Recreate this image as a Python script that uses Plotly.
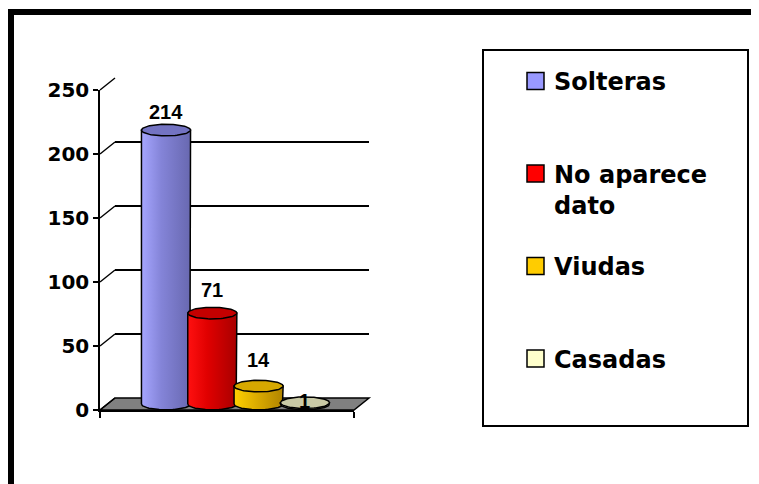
import numpy as np
import plotly.graph_objects as go

# data
categories = ["Solteras", "No aparece<br>dato", "Viudas", "Casadas"]
counts = [214, 71, 14, 1]
y_ticks = [0, 50, 100, 150, 200, 250]

# styles
swatch = ["#9999FF", "#FF0000", "#FFCC00", "#FFFFCC"]
side_light = ["#A6A6FF", "#FF1010", "#FFD000", "#DCDCBC"]
side_mid = ["#8484D8", "#E00000", "#E0B000", "#CACAA8"]
side_dark = ["#6868B0", "#A80000", "#B08400", "#AEAE8E"]
cap_color = ["#7373C2", "#C40000", "#D6A800", "#CACAA6"]
label_lift = [18, 23, 26, 2]

# the page body has an 8px margin, so the figure starts at (8, 8)
OFF = 8
W, H = 759 - OFF, 484 - OFF
K = 1.28          # pixels per count
SLOT = 46.3       # pixels between cylinders
HW = 0.53         # half width of a cylinder, in slots
B = 5.8 / K       # half height of the elliptic caps, in counts


def px(x):
    return (x - OFF) / W


def py(y):
    return 1 - (y - OFF) / H


fig = go.Figure()

# empty traces so the front and back subplots get drawn
fig.add_trace(go.Scatter(x=[], y=[], xaxis="x", yaxis="y", hoverinfo="skip", showlegend=False))
fig.add_trace(go.Scatter(x=[], y=[], xaxis="x2", yaxis="y2", hoverinfo="skip", showlegend=False))

t_half = np.linspace(0, np.pi, 40)
t_full = np.linspace(0, 2 * np.pi, 80)
for i, (name, v) in enumerate(zip(categories, counts)):
    # body of the cylinder
    bx = [i - HW, i - HW, i + HW] + list(i + HW * np.cos(t_half))
    by = [0, v, v] + list(-B * np.sin(t_half))
    fig.add_trace(go.Scatter(
        x=bx, y=by, xaxis="x3", yaxis="y3",
        mode="lines", fill="toself",
        fillgradient=dict(type="horizontal",
                          colorscale=[[0, side_light[i]], [0.4, side_mid[i]], [1, side_dark[i]]]),
        line=dict(color="black", width=1.5),
        hoverinfo="skip", showlegend=False, name=name,
    ))
    # top cap
    fig.add_trace(go.Scatter(
        x=list(i + HW * np.cos(t_full)), y=list(v + B * np.sin(t_full)),
        xaxis="x3", yaxis="y3",
        mode="lines", fill="toself", fillcolor=cap_color[i],
        line=dict(color="black", width=1.5),
        hoverinfo="skip", showlegend=False,
    ))
    fig.add_annotation(
        x=i, y=v, xref="x3", yref="y3", text=f"<b>{v}</b>",
        showarrow=False, yanchor="middle", yshift=label_lift[i],
        font=dict(family="Liberation Sans", size=20, color="black"),
    )

shapes = []
# thick frame (top and left)
shapes.append(dict(type="rect", xref="paper", yref="paper", x0=px(8), x1=px(770),
                   y0=py(15), y1=py(9), fillcolor="black", line=dict(width=0)))
shapes.append(dict(type="rect", xref="paper", yref="paper", x0=px(8), x1=px(14),
                   y0=py(495), y1=py(9), fillcolor="black", line=dict(width=0)))
# floor
shapes.append(dict(
    type="path", xref="paper", yref="paper", layer="below",
    path=f"M{px(100)},{py(410)} L{px(354)},{py(410)} L{px(369)},{py(398)} L{px(115)},{py(398)} Z",
    fillcolor="#808080", line=dict(color="black", width=1.5)))
# wall connectors from front ticks to back gridlines
for t in y_ticks:
    shapes.append(dict(type="line", xref="paper", yref="paper", layer="below",
                       x0=px(100), y0=py(410 - K * t), x1=px(115), y1=py(398 - K * t),
                       line=dict(color="black", width=1.5)))

# legend
shapes.append(dict(type="rect", xref="paper", yref="paper", x0=px(483), x1=px(748),
                   y0=py(426), y1=py(50), line=dict(color="black", width=2)))
for i, name in enumerate(categories):
    cy = 81 + 92.5 * i
    shapes.append(dict(type="rect", xref="paper", yref="paper",
                       x0=px(527), x1=px(544), y0=py(cy + 8.5), y1=py(cy - 8.5),
                       fillcolor=swatch[i], line=dict(color="black", width=1.5)))
    nlines = name.count("<br>") + 1
    fig.add_annotation(
        x=px(552), y=py(cy + (nlines - 1) * 16.5 + 1), xref="paper", yref="paper",
        text=f"<b>{name}</b>", showarrow=False, xanchor="left", yanchor="middle",
        align="left", font=dict(family="DejaVu Sans", size=24, color="black"),
    )

fig.update_layout(
    width=W, height=H,
    margin=dict(l=0, r=0, t=0, b=0),
    paper_bgcolor="white", plot_bgcolor="rgba(0,0,0,0)",
    showlegend=False,
    shapes=shapes,
    # front plane: value axis
    xaxis=dict(domain=[px(100), px(354)], range=[0, 1], anchor="y", automargin=False,
               showline=True, linecolor="black", linewidth=1.5,
               ticks="outside", tickvals=[0, 1], ticklen=6, tickwidth=1.5, tickcolor="black",
               showticklabels=False, showgrid=False, zeroline=False),
    yaxis=dict(domain=[py(410), py(90)], range=[0, 250], anchor="x", automargin=False,
               tickvals=y_ticks, ticks="outside", ticklen=5, tickwidth=1.5, tickcolor="black",
               showline=True, linecolor="black", linewidth=1.5,
               showgrid=False, zeroline=False,
               tickfont=dict(family="DejaVu Sans", size=20, color="black", weight="bold")),
    # back wall: gridlines
    xaxis2=dict(domain=[px(115), px(369)], range=[0, 1], anchor="y2", visible=False,
                automargin=False),
    yaxis2=dict(domain=[py(398), py(78)], range=[0, 250], anchor="x2", automargin=False,
                tickvals=y_ticks, showgrid=True, gridcolor="black", gridwidth=1.5,
                showticklabels=False, ticks="", zeroline=False, showline=False),
    # middle plane: cylinders
    xaxis3=dict(domain=[px(107.5), px(361.5)],
                range=[-(166 - 107.5) / SLOT, -(166 - 107.5) / SLOT + 254 / SLOT],
                anchor="y3", visible=False, automargin=False),
    yaxis3=dict(domain=[py(404 + 10 * K), py(404 - 260 * K)], range=[-10, 260],
                anchor="x3", visible=False, automargin=False),
)

fig.write_html("out.html")
